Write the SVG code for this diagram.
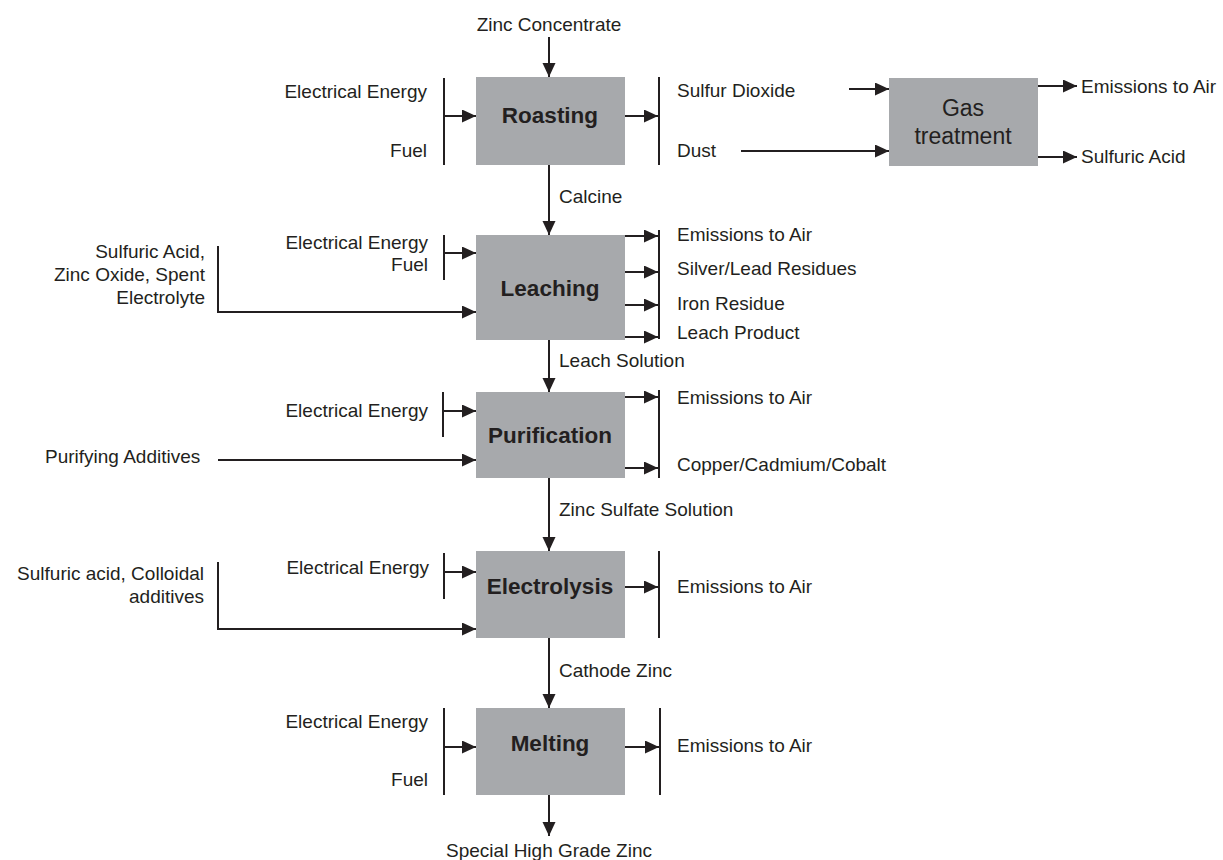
<svg xmlns="http://www.w3.org/2000/svg" width="1223" height="860" viewBox="0 0 1223 860">
<style>
.box{fill:#a7a9ac;}
.t{font-family:"Liberation Sans",Arial,Helvetica,sans-serif;font-size:19px;fill:#231f20;}
.r{text-anchor:end;}
.m{text-anchor:middle;}
.b{font-family:"Liberation Sans",Arial,Helvetica,sans-serif;font-size:22.5px;font-weight:bold;fill:#231f20;text-anchor:middle;}
.g{font-family:"Liberation Sans",Arial,Helvetica,sans-serif;font-size:23px;fill:#231f20;text-anchor:middle;}
.ln{stroke:#231f20;stroke-width:2;fill:none;}
.ar{stroke:#231f20;stroke-width:2;fill:none;marker-end:url(#ah);}
</style>
<defs>
<marker id="ah" markerUnits="userSpaceOnUse" markerWidth="15" markerHeight="14" refX="14" refY="6.5" orient="auto">
<path d="M0,0 L14,6.5 L0,13 z" fill="#231f20"/>
</marker>
</defs>
<rect width="1223" height="860" fill="#ffffff"/>

<g id="roasting">
<rect class="box" x="476" y="77" width="149" height="88"/>
<text class="b" x="550" y="123">Roasting</text>
</g>
<g id="gas-treatment">
<rect class="box" x="889" y="78" width="149" height="88"/>
<text class="g" x="963" y="116">Gas</text>
<text class="g" x="963" y="144">treatment</text>
</g>
<g id="leaching">
<rect class="box" x="476" y="235" width="149" height="105"/>
<text class="b" x="550" y="296">Leaching</text>
</g>
<g id="purification">
<rect class="box" x="476" y="392" width="149" height="86"/>
<text class="b" x="550" y="443">Purification</text>
</g>
<g id="electrolysis">
<rect class="box" x="476" y="551" width="149" height="87"/>
<text class="b" x="550" y="594">Electrolysis</text>
</g>
<g id="melting">
<rect class="box" x="476" y="708" width="149" height="87"/>
<text class="b" x="550" y="751">Melting</text>
</g>

<g id="connectors">
<!-- main flow -->
<line class="ar" x1="549" y1="37" x2="549" y2="77"/>
<line class="ar" x1="549" y1="165" x2="549" y2="235"/>
<line class="ar" x1="549" y1="340" x2="549" y2="392"/>
<line class="ar" x1="549" y1="478" x2="549" y2="551"/>
<line class="ar" x1="549" y1="638" x2="549" y2="708"/>
<line class="ar" x1="549" y1="795" x2="549" y2="836"/>
<!-- roasting inputs -->
<line class="ln" x1="444" y1="78" x2="444" y2="165"/>
<line class="ar" x1="444" y1="116" x2="476" y2="116"/>
<!-- roasting outputs -->
<line class="ar" x1="625" y1="116" x2="658" y2="116"/>
<line class="ln" x1="659" y1="77" x2="659" y2="165"/>
<!-- gas treatment -->
<line class="ar" x1="849" y1="89" x2="889" y2="89"/>
<line class="ar" x1="741" y1="151" x2="889" y2="151"/>
<line class="ar" x1="1038" y1="86" x2="1077" y2="86"/>
<line class="ar" x1="1038" y1="157" x2="1077" y2="157"/>
<!-- leaching inputs -->
<line class="ln" x1="444" y1="235" x2="444" y2="280"/>
<line class="ar" x1="444" y1="253" x2="476" y2="253"/>
<polyline class="ar" points="218,246 218,312 476,312"/>
<!-- leaching outputs -->
<line class="ar" x1="625" y1="236" x2="658" y2="236"/>
<line class="ar" x1="625" y1="272" x2="658" y2="272"/>
<line class="ar" x1="625" y1="305" x2="658" y2="305"/>
<line class="ar" x1="625" y1="337" x2="658" y2="337"/>
<line class="ln" x1="659" y1="230" x2="659" y2="339"/>
<!-- purification inputs -->
<line class="ln" x1="443" y1="392" x2="443" y2="437"/>
<line class="ar" x1="443" y1="411" x2="476" y2="411"/>
<line class="ar" x1="218" y1="460" x2="476" y2="460"/>
<!-- purification outputs -->
<line class="ar" x1="625" y1="397" x2="658" y2="397"/>
<line class="ar" x1="625" y1="468" x2="658" y2="468"/>
<line class="ln" x1="659" y1="390" x2="659" y2="478"/>
<!-- electrolysis inputs -->
<line class="ln" x1="444" y1="553" x2="444" y2="599"/>
<line class="ar" x1="444" y1="572" x2="476" y2="572"/>
<polyline class="ar" points="218,562 218,629 476,629"/>
<!-- electrolysis outputs -->
<line class="ar" x1="625" y1="587" x2="658" y2="587"/>
<line class="ln" x1="659" y1="551" x2="659" y2="638"/>
<!-- melting inputs -->
<line class="ln" x1="444" y1="708" x2="444" y2="795"/>
<line class="ar" x1="444" y1="747" x2="476" y2="747"/>
<!-- melting outputs -->
<line class="ar" x1="625" y1="747" x2="659" y2="747"/>
<line class="ln" x1="660" y1="708" x2="660" y2="795"/>
</g>

<g id="labels">
<text class="t m" x="549" y="31">Zinc Concentrate</text>
<text class="t r" x="427" y="98">Electrical Energy</text>
<text class="t r" x="427" y="157">Fuel</text>
<text class="t" x="677" y="97">Sulfur Dioxide</text>
<text class="t" x="677" y="157">Dust</text>
<text class="t" x="1081" y="93">Emissions to Air</text>
<text class="t" x="1081" y="163">Sulfuric Acid</text>
<text class="t" x="559" y="203">Calcine</text>

<text class="t r" x="428" y="249">Electrical Energy</text>
<text class="t r" x="428" y="271">Fuel</text>
<text class="t r" x="205" y="258">Sulfuric Acid,</text>
<text class="t r" x="205" y="281">Zinc Oxide, Spent</text>
<text class="t r" x="205" y="304">Electrolyte</text>
<text class="t" x="677" y="241">Emissions to Air</text>
<text class="t" x="677" y="275">Silver/Lead Residues</text>
<text class="t" x="677" y="310">Iron Residue</text>
<text class="t" x="677" y="339">Leach Product</text>
<text class="t" x="559" y="367">Leach Solution</text>

<text class="t r" x="428" y="417">Electrical Energy</text>
<text class="t" x="45" y="463">Purifying Additives</text>
<text class="t" x="677" y="404">Emissions to Air</text>
<text class="t" x="677" y="471">Copper/Cadmium/Cobalt</text>
<text class="t" x="559" y="516">Zinc Sulfate Solution</text>

<text class="t r" x="429" y="574">Electrical Energy</text>
<text class="t r" x="204" y="580">Sulfuric acid, Colloidal</text>
<text class="t r" x="204" y="603">additives</text>
<text class="t" x="677" y="593">Emissions to Air</text>
<text class="t" x="559" y="677">Cathode Zinc</text>

<text class="t r" x="428" y="728">Electrical Energy</text>
<text class="t r" x="428" y="786">Fuel</text>
<text class="t" x="677" y="752">Emissions to Air</text>
<text class="t m" x="549" y="857">Special High Grade Zinc</text>
</g>
</svg>
